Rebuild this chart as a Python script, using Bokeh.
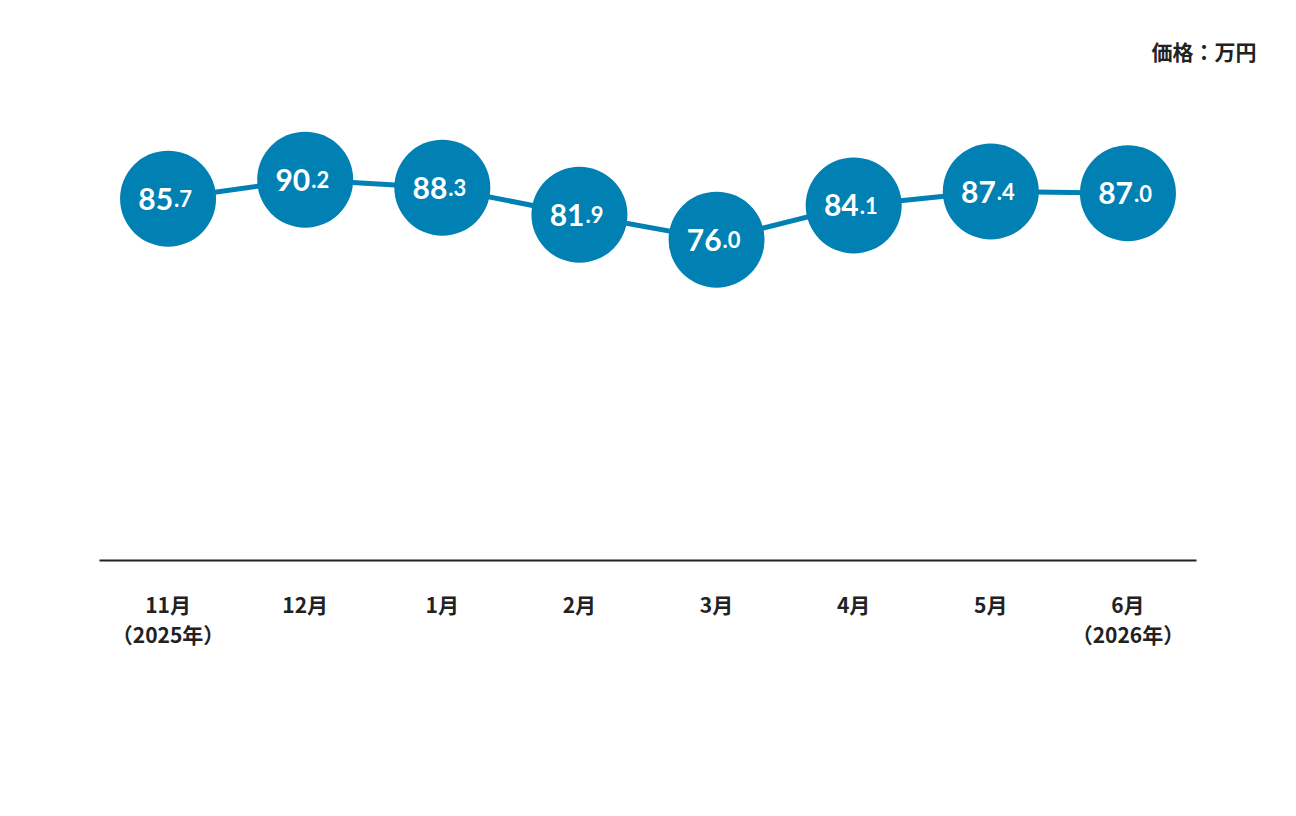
from bokeh.plotting import figure
from bokeh.models import ColumnDataSource, Range1d, FactorRange, Title
from bokeh.core.properties import value
from bokeh.embed import file_html
from bokeh.resources import INLINE

months = ["11月\n（2025年）", "12月", "1月", "2月", "3月", "4月", "5月", "6月\n（2026年）"]
prices = [85.7, 90.2, 88.3, 81.9, 76.0, 84.1, 87.4, 87.0]
unit_label = "価格：万円"

int_parts = [f"{v:.1f}".split(".")[0] for v in prices]
dec_parts = ["." + f"{v:.1f}".split(".")[1] for v in prices]

src = ColumnDataSource(data=dict(x=months, y=prices, i=int_parts, d=dec_parts))

W, H = 1280, 800
ML, MR, MT, MB = 99, 84, 88, 240
p = figure(width=W, height=H, x_range=FactorRange(*months), y_range=Range1d(0, 111.8),
           output_backend="svg", toolbar_location=None,
           min_border_left=ML, min_border_right=MR, min_border_top=MT, min_border_bottom=MB)
p.outline_line_color = None
p.grid.visible = False
p.yaxis.visible = False
p.background_fill_color = "white"

blue = "#0080B3"
p.line("x", "y", source=src, line_color=blue, line_width=5)
p.scatter("x", "y", source=src, size=96, fill_color=blue, line_color=None)
p.text("x", "y", text="i", source=src, text_align="right", text_baseline="alphabetic",
       x_offset=5, y_offset=0, text_color="white", text_font=value("Lato"),
       text_font_style="bold", text_font_size="30px")
p.text("x", "y", text="d", source=src, text_align="left", text_baseline="alphabetic",
       x_offset=6, y_offset=0, text_color="white", text_font=value("Lato"),
       text_font_style="bold", text_font_size="22px")

ax = p.xaxis[0]
ax.axis_line_color = "#222222"
ax.axis_line_width = 2
ax.major_tick_line_color = None
ax.minor_tick_line_color = None
ax.major_label_standoff = 22
ax.major_label_text_font = "Noto Sans CJK JP"
ax.major_label_text_font_style = "bold"
ax.major_label_text_font_size = "21px"
ax.major_label_text_line_height = 1.0
ax.major_label_text_color = "#222222"

p.add_layout(Title(text=unit_label, align="right", offset=-60, standoff=46,
                   text_font="Noto Sans CJK JP", text_font_style="bold",
                   text_font_size="21px", text_color="#222222"), "above")

open("out.html", "w").write(file_html(p, INLINE))
